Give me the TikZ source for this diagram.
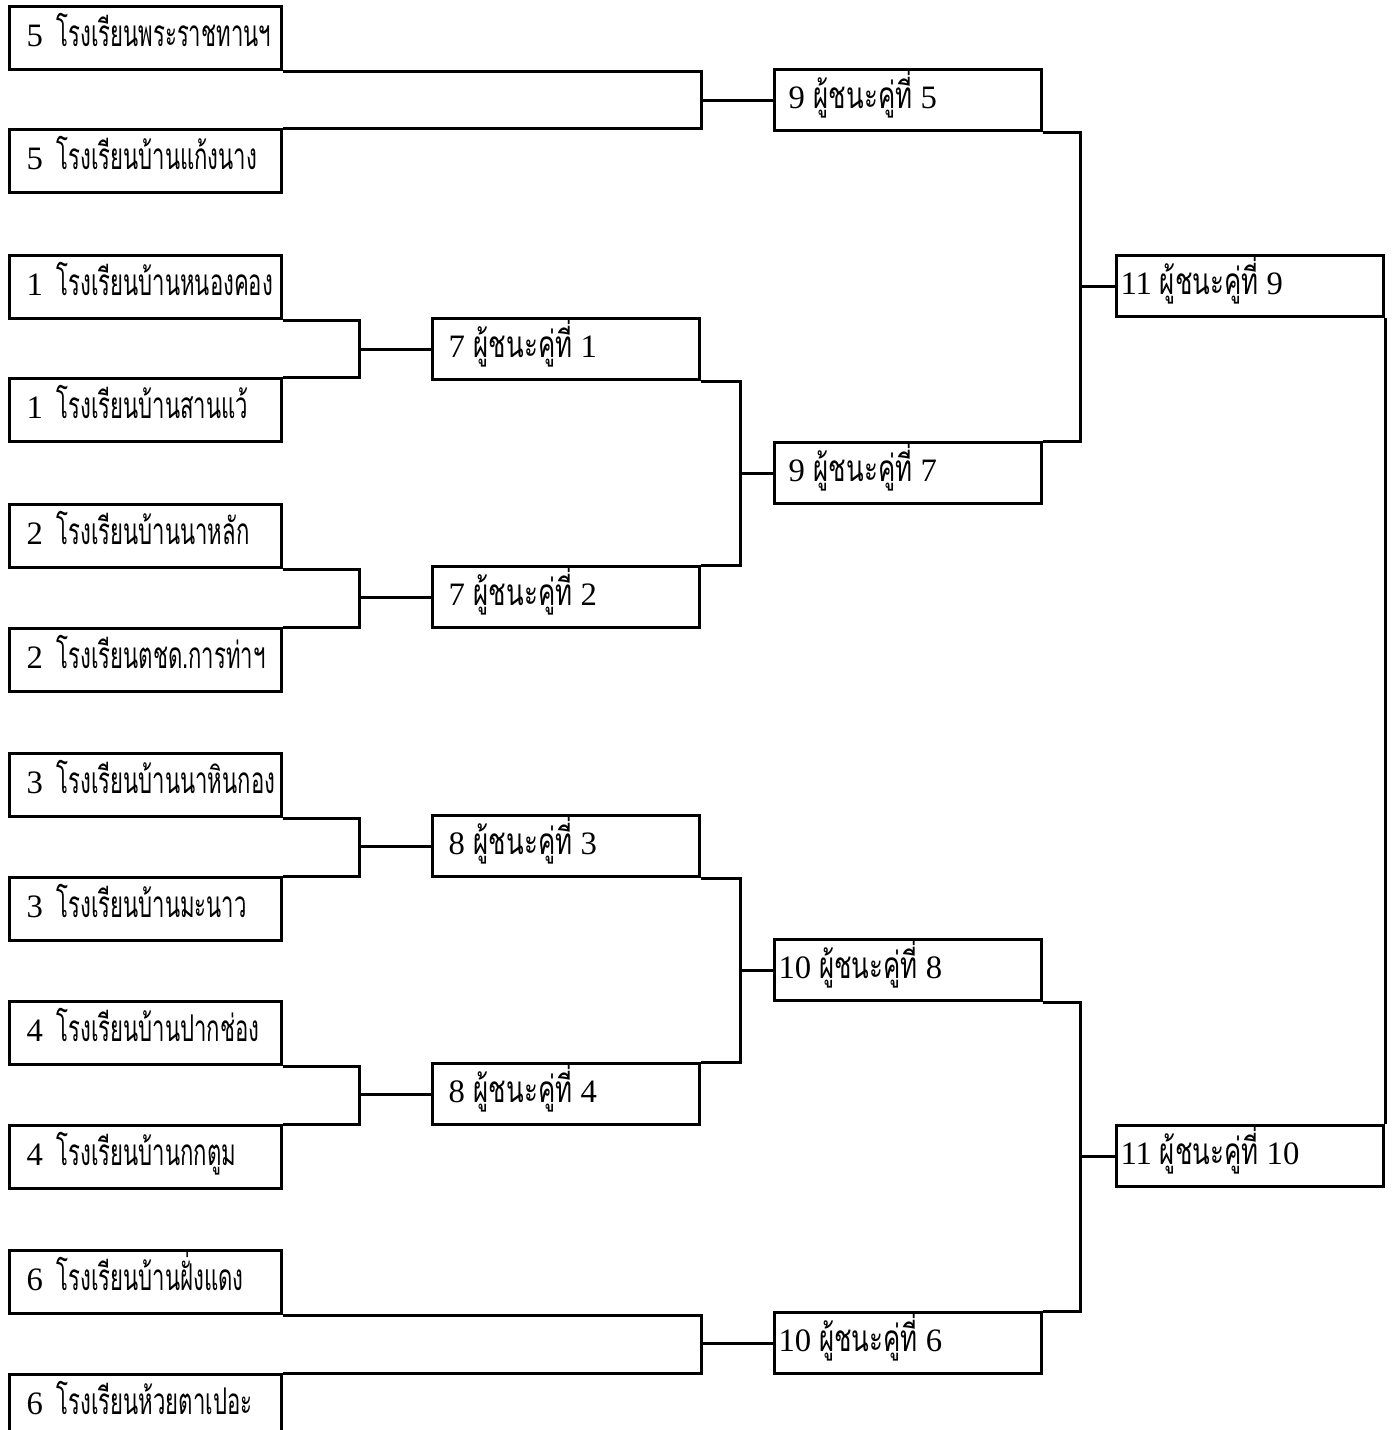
\documentclass[tikz,border=0pt]{standalone}
\usepackage{fontspec}
\setmainfont{Liberation Serif}
\newfontfamily\thaifont[Script=Thai,FakeStretch=0.6]{Loma}
\newfontfamily\thaiwide[Script=Thai,FakeStretch=0.7]{Loma}
\usepackage{tikz}
\tikzset{
  teambox/.style={draw,line width=0.3mm,anchor=north west,minimum width=27.2mm,minimum height=6.3mm,
    inner xsep=1mm,inner ysep=0pt,text height=2.6mm,text depth=0.9mm,font=\fontsize{9.3}{11}\selectfont},
  winbox/.style={teambox,minimum width=26.7mm,minimum height=6.1mm,inner xsep=0.4mm},
  link/.style={line width=0.3mm},
}
\newcommand{\Entry}[2]{\makebox[25.2mm][l]{\hspace{0.7mm}\makebox[3mm][l]{#1}{\thaifont\fontsize{10.5}{11}\selectfont #2}}}% seed, school
\newcommand{\Win}[2]{\makebox[25.9mm][l]{#1{\thaiwide\fontsize{10.5}{11}\selectfont ผู้ชนะคู่ที่} #2}}% round, match
\newcommand{\Pair}[4]{% top bottom join-x winner
\draw[link] (#1.south east) -- ++(#3,0) coordinate (#4j) |- (#2.north east);
\draw[link] (#4j |- #4.west) -- (#4.west);
}

\begin{document}
\begin{tikzpicture}[x=0.1mm,y=-0.1mm]
\clip (0,0) rectangle (1392,1430);
% first round
\node[teambox] (t5a) at (8,5) {\Entry{5}{โรงเรียนพระราชทานฯ}};
\node[teambox] (t5b) at (8,128) {\Entry{5}{โรงเรียนบ้านแก้งนาง}};
\node[teambox] (t1a) at (8,254) {\Entry{1}{โรงเรียนบ้านหนองคอง}};
\node[teambox] (t1b) at (8,377) {\Entry{1}{โรงเรียนบ้านสานแว้}};
\node[teambox] (t2a) at (8,503) {\Entry{2}{โรงเรียนบ้านนาหลัก}};
\node[teambox] (t2b) at (8,627) {\Entry{2}{โรงเรียนตชด.การท่าฯ}};
\node[teambox] (t3a) at (8,752) {\Entry{3}{โรงเรียนบ้านนาหินกอง}};
\node[teambox] (t3b) at (8,876) {\Entry{3}{โรงเรียนบ้านมะนาว}};
\node[teambox] (t4a) at (8,1000) {\Entry{4}{โรงเรียนบ้านปากช่อง}};
\node[teambox] (t4b) at (8,1124) {\Entry{4}{โรงเรียนบ้านกกตูม}};
\node[teambox] (t6a) at (8,1249) {\Entry{6}{โรงเรียนบ้านฝั่งแดง}};
\node[teambox] (t6b) at (8,1373) {\Entry{6}{โรงเรียนห้วยตาเปอะ}};

% winners
\node[winbox] (w1) at (431,317) {\Win{\hspace{1.2mm}7\hspace{0.9mm}}{1}};
\node[winbox] (w2) at (431,565) {\Win{\hspace{1.2mm}7\hspace{0.9mm}}{2}};
\node[winbox] (w3) at (431,814) {\Win{\hspace{1.2mm}8\hspace{0.9mm}}{3}};
\node[winbox] (w4) at (431,1062) {\Win{\hspace{1.2mm}8\hspace{0.9mm}}{4}};
\node[winbox] (w5) at (773,68) {\Win{\hspace{1mm}9\hspace{0.9mm}}{5}};
\node[winbox] (w7) at (773,441) {\Win{\hspace{1mm}9\hspace{0.9mm}}{7}};
\node[winbox] (w8) at (773,938) {\Win{10\hspace{0.8mm}}{8}};
\node[winbox] (w6) at (773,1311) {\Win{10\hspace{0.8mm}}{6}};
\node[winbox] (f9) at (1115,254) {\Win{11\hspace{0.8mm}}{9}};
\node[winbox] (f10) at (1115,1124) {\Win{11\hspace{0.8mm}}{10}};

% brackets
\Pair{t5a}{t5b}{418}{w5}
\Pair{t1a}{t1b}{76}{w1}
\Pair{t2a}{t2b}{76}{w2}
\Pair{t3a}{t3b}{76}{w3}
\Pair{t4a}{t4b}{76}{w4}
\Pair{t6a}{t6b}{418}{w6}
\Pair{w1}{w2}{39}{w7}
\Pair{w3}{w4}{39}{w8}
\Pair{w5}{w7}{37}{f9}
\Pair{w8}{w6}{37}{f10}
\draw[link] (f9.south east) -- (f10.north east);
\end{tikzpicture}
\end{document}
